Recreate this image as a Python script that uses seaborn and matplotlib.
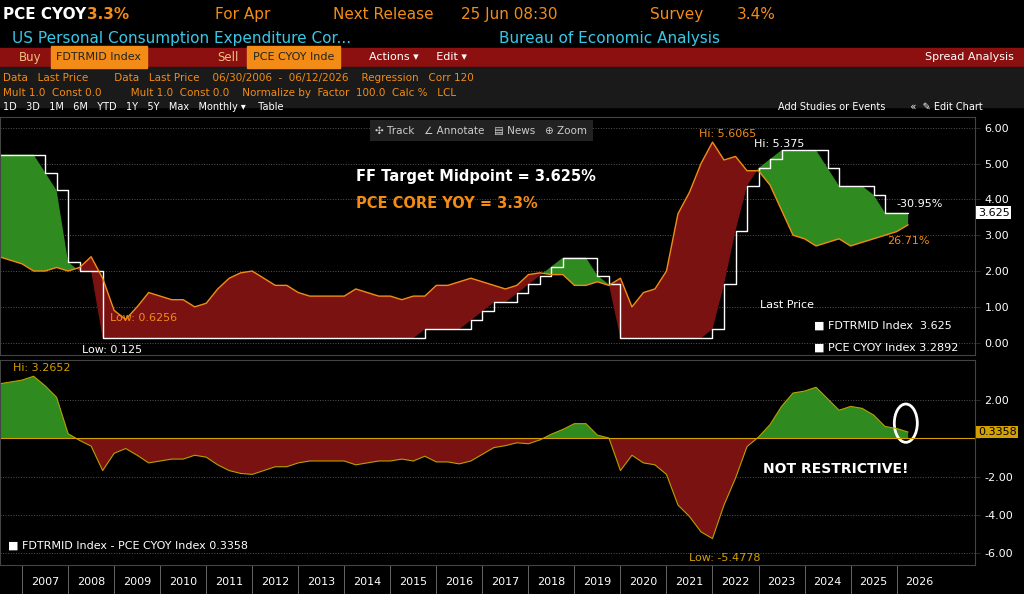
import numpy as np
import pandas as pd
import matplotlib.pyplot as plt
import seaborn as sns
from matplotlib.patches import Rectangle, Ellipse

# quarterly points, 2006Q3 .. 2026Q2
fdtrmid = ([5.25, 5.25] + [5.25, 5.25, 4.75, 4.25] + [2.25, 2.0, 2.0, 0.125]
           + [0.125] * 24
           + [0.125, 0.125, 0.125, 0.375] + [0.375, 0.375, 0.375, 0.625]
           + [0.875, 1.125, 1.125, 1.375] + [1.625, 1.875, 2.125, 2.375]
           + [2.375, 2.375, 1.875, 1.625] + [0.125] * 8
           + [0.375, 1.625, 3.125, 4.375] + [4.875, 5.125, 5.375, 5.375]
           + [5.375, 5.375, 4.875, 4.375] + [4.375, 4.375, 4.125, 3.625]
           + [3.625, 3.625])
pce_core = ([2.4, 2.3] + [2.2, 2.0, 2.0, 2.1] + [2.0, 2.1, 2.4, 1.8]
            + [0.9, 0.65, 1.0, 1.4] + [1.3, 1.2, 1.2, 1.0]
            + [1.1, 1.5, 1.8, 1.95] + [2.0, 1.8, 1.6, 1.6]
            + [1.4, 1.3, 1.3, 1.3] + [1.3, 1.5, 1.4, 1.3]
            + [1.3, 1.2, 1.3, 1.3] + [1.6, 1.6, 1.7, 1.8]
            + [1.7, 1.6, 1.5, 1.6] + [1.9, 1.95, 1.9, 1.9]
            + [1.6, 1.6, 1.7, 1.6] + [1.8, 1.0, 1.4, 1.5]
            + [2.0, 3.6, 4.2, 5.0] + [5.6, 5.1, 5.2, 4.8]
            + [4.8, 4.4, 3.7, 3.0] + [2.9, 2.7, 2.8, 2.9]
            + [2.7, 2.8, 2.9, 3.0] + [3.1, 3.29])
years = list(range(2007, 2027))

t = 2006.5 + np.arange(len(fdtrmid)) * 0.25
df = pd.DataFrame({"t": t, "ff": fdtrmid, "pce": pce_core})
df["spread"] = df["ff"] - df["pce"]

sns.set_style("dark")
plt.rcParams["font.family"] = ["DejaVu Sans"]
fig = plt.figure(figsize=(10.24, 5.94), dpi=100, facecolor="black")

GREEN, RED, ORANGE = "#2f8a1f", "#7a1212", "#f28c16"
xlo, xhi = 2006.52, 2027.7

# header
fig.text(0.003, 0.975, "PCE CYOY", color="white", fontsize=11, fontweight="bold", va="center")
fig.text(0.085, 0.975, "3.3%", color=ORANGE, fontsize=11, fontweight="bold", va="center")
for x, s in [(0.21, "For Apr"), (0.325, "Next Release"), (0.45, "25 Jun 08:30"), (0.635, "Survey"), (0.72, "3.4%")]:
    fig.text(x, 0.975, s, color=ORANGE, fontsize=11, va="center")
fig.text(0.012, 0.935, "US Personal Consumption Expenditure Cor...", color="#37c8e8", fontsize=11, va="center")
fig.text(0.487, 0.935, "Bureau of Economic Analysis", color="#37c8e8", fontsize=11, va="center")
fig.patches.append(Rectangle((0, 0.888), 1, 0.032, transform=fig.transFigure, color="#8c1010"))
fig.text(0.018, 0.904, "Buy", color="#f0c080", fontsize=8.5, va="center")
fig.text(0.055, 0.904, "FDTRMID Index", color="#222", fontsize=8, va="center", backgroundcolor="#f28c16")
fig.text(0.212, 0.904, "Sell", color="#f0c080", fontsize=8.5, va="center")
fig.text(0.247, 0.904, "PCE CYOY Inde", color="#222", fontsize=8, va="center", backgroundcolor="#f28c16")
fig.text(0.36, 0.904, "Actions ▾     Edit ▾", color="white", fontsize=8, va="center")
fig.text(0.99, 0.904, "Spread Analysis", color="white", fontsize=8, va="center", ha="right")
fig.patches.append(Rectangle((0, 0.82), 1, 0.068, transform=fig.transFigure, color="#1a1a1a"))
fig.text(0.003, 0.869, "Data   Last Price        Data   Last Price    06/30/2006  -  06/12/2026    Regression   Corr 120",
         color="#f28c16", fontsize=7.5, va="center")
fig.text(0.003, 0.843, "Mult 1.0  Const 0.0         Mult 1.0  Const 0.0    Normalize by  Factor  100.0  Calc %   LCL",
         color="#f28c16", fontsize=7.5, va="center")
fig.text(0.003, 0.82, "1D   3D   1M   6M   YTD   1Y   5Y   Max   Monthly ▾    Table", color="white", fontsize=7, va="center")
fig.text(0.76, 0.82, "Add Studies or Events        «  ✎ Edit Chart", color="white", fontsize=7, va="center")

# upper panel
ax1 = fig.add_axes([0, 0.402, 0.952, 0.401], facecolor="black")
ax1.fill_between(df["t"], df["ff"], df["pce"], where=df["ff"] >= df["pce"], interpolate=True, color=GREEN, lw=0)
ax1.fill_between(df["t"], df["ff"], df["pce"], where=df["ff"] < df["pce"], interpolate=True, color=RED, lw=0)
sns.lineplot(data=df, x="t", y="ff", ax=ax1, color="white", lw=1, drawstyle="steps-post")
sns.lineplot(data=df, x="t", y="pce", ax=ax1, color=ORANGE, lw=1)
ax1.set_xlim(xlo, xhi)
ax1.set_ylim(-0.35, 6.3)
ax1.yaxis.tick_right()
ax1.set_yticks(np.arange(0, 7, 1.0))
ax1.set_yticklabels([f"{v:.2f}" for v in range(7)], color="white", fontsize=8)
ax1.set_xticks([])
ax1.grid(axis="y", color="#555", ls=":", lw=0.7)
ax1.set_xlabel("")
ax1.set_ylabel("")
ax1.text(0.365, 0.73, "FF Target Midpoint = 3.625%", transform=ax1.transAxes, color="white", fontsize=10.5, fontweight="bold")
ax1.text(0.365, 0.62, "PCE CORE YOY = 3.3%", transform=ax1.transAxes, color=ORANGE, fontsize=10.5, fontweight="bold")
ax1.text(0.385, 0.93, "✣ Track   ∠ Annotate   ▤ News   ⊕ Zoom", transform=ax1.transAxes, color="#ccc", fontsize=7.5,
         bbox=dict(facecolor="#222", edgecolor="none"))
ax1.text(2008.9, 0.6, "Low: 0.6256", color=ORANGE, fontsize=8)
ax1.text(2008.3, -0.28, "Low: 0.125", color="white", fontsize=8)
ax1.text(2021.7, 5.75, "Hi: 5.6065", color=ORANGE, fontsize=8)
ax1.text(2022.9, 5.45, "Hi: 5.375", color="white", fontsize=8)
ax1.text(2026.0, 3.8, "-30.95%", color="white", fontsize=8)
ax1.text(2025.8, 2.75, "26.71%", color=ORANGE, fontsize=8)
ax1.text(1.003, (3.625 + 0.35) / 6.65, "3.625", transform=ax1.transAxes, color="black", fontsize=8, va="center",
         bbox=dict(facecolor="white", edgecolor="none", pad=1))
ax1.text(0.78, 0.2, "Last Price", transform=ax1.transAxes, color="white", fontsize=8)
ax1.text(0.835, 0.11, "■ FDTRMID Index  3.625", transform=ax1.transAxes, color="white", fontsize=8)
ax1.text(0.835, 0.02, "■ PCE CYOY Index 3.2892", transform=ax1.transAxes, color="white", fontsize=8)

# lower panel
ax2 = fig.add_axes([0, 0.049, 0.952, 0.345], facecolor="black")
ax2.fill_between(df["t"], df["spread"], 0, where=df["spread"] >= 0, interpolate=True, color=GREEN, lw=0)
ax2.fill_between(df["t"], df["spread"], 0, where=df["spread"] < 0, interpolate=True, color=RED, lw=0)
sns.lineplot(data=df, x="t", y="spread", ax=ax2, color="#b8a000", lw=0.8)
ax2.axhline(0, color="#d4a000", lw=0.8)
ax2.set_xlim(xlo, xhi)
ax2.set_ylim(-6.6, 4.1)
ax2.yaxis.tick_right()
ax2.set_yticks([-6, -4, -2, 0, 2])
ax2.set_yticklabels(["-6.00", "-4.00", "-2.00", "", "2.00"], color="white", fontsize=8)
ax2.grid(axis="y", color="#555", ls=":", lw=0.7)
ax2.set_xlabel("")
ax2.set_ylabel("")
ax2.set_xticks([y + 0.5 for y in years])
ax2.set_xticklabels([str(y) for y in years], color="white", fontsize=8)
ax2.tick_params(axis="x", length=0, pad=9)
for y in years:
    ax2.axvline(y, ymin=-0.14, ymax=0, color="#777", lw=0.6, clip_on=False)
ax2.text(2006.8, 3.5, "Hi: 3.2652", color="#d4a000", fontsize=8)
ax2.text(2021.5, -6.4, "Low: -5.4778", color="#d4a000", fontsize=8)
ax2.text(2023.1, -1.8, "NOT RESTRICTIVE!", color="white", fontsize=10, fontweight="bold")
ax2.add_patch(Ellipse((2026.2, 0.8), 0.5, 2.0, fill=False, ec="white", lw=2))
ax2.text(1.003, (0.3358 + 6.6) / 10.7, "0.3358", transform=ax2.transAxes, color="black", fontsize=8, va="center",
         bbox=dict(facecolor="#d4a000", edgecolor="none", pad=1))
ax2.text(0.008, 0.08, "■ FDTRMID Index - PCE CYOY Index 0.3358", transform=ax2.transAxes, color="white", fontsize=8)
for a in (ax1, ax2):
    for s in a.spines.values():
        s.set_color("#444")

fig.savefig("out.png", dpi=100, facecolor="black")
